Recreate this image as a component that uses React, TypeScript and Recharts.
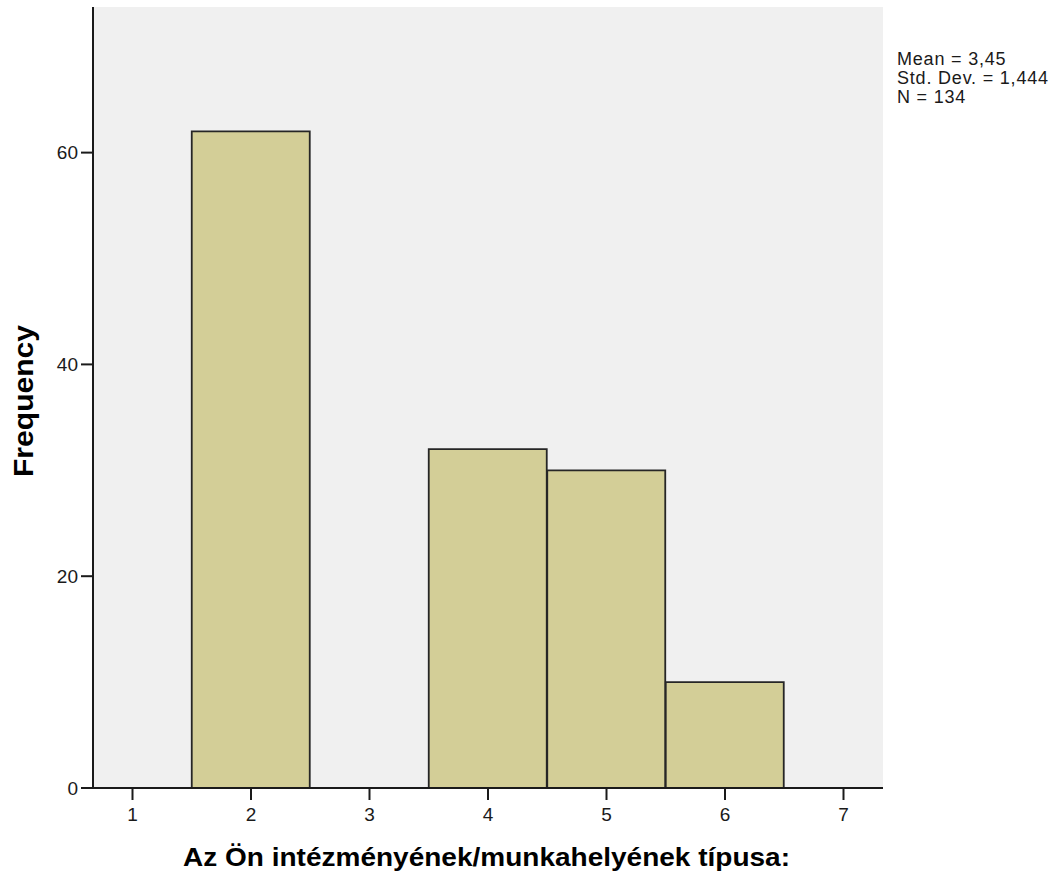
import React from 'react';
import { ComposedChart, Bar, XAxis, YAxis, CartesianGrid, Customized, Label } from 'recharts';

const categories = [1, 2, 3, 4, 5, 6, 7];
const frequencies = [0, 62, 0, 32, 30, 10, 0];
const yTicks = [0, 20, 40, 60];
const statsLines = ['Mean = 3,45', 'Std. Dev. = 1,444', 'N = 134'];
const xTitle = 'Az Ön intézményének/munkahelyének típusa:';
const yTitle = 'Frequency';

const data = categories.map((c, i) => ({ value: c, count: frequencies[i] }));

const FONT = '"Liberation Sans", Arial, sans-serif';

const Stats = () => (
  <g>
    {statsLines.map((t, i) => (
      <text
        key={i}
        x={897}
        y={65 + i * 19}
        fontFamily={FONT}
        fontSize={18}
        letterSpacing={0.8}
        fill="#1a1a1a"
      >
        {t}
      </text>
    ))}
  </g>
);

const XTitle = () => (
  <text
    x={486.5}
    y={866}
    textAnchor="middle"
    fontFamily={FONT}
    fontWeight="bold"
    fontSize={25}
    fill="#000"
    textLength={607}
    lengthAdjust="spacingAndGlyphs"
  >
    {xTitle}
  </text>
);

const YTitle = () => (
  <text
    x={33}
    y={401}
    transform="rotate(-90 33 401)"
    textAnchor="middle"
    fontFamily={FONT}
    fontWeight="bold"
    fontSize={27}
    fill="#000"
    textLength={152}
    lengthAdjust="spacingAndGlyphs"
  >
    {yTitle}
  </text>
);

export default function App() {
  return (
    <div style={{ position: 'absolute', left: 0, top: 0, background: '#fff' }}>
      <ComposedChart
        width={1060}
        height={879}
        data={data}
        margin={{ top: 7, right: 177, bottom: 31, left: 33 }}
        barCategoryGap={0}
        barGap={0}
      >
        <CartesianGrid horizontal={false} vertical={false} fill="#F0F0F0" />
        <XAxis
          xAxisId="main"
          dataKey="value"
          type="number"
          domain={[2 / 3, 22 / 3]}
          allowDataOverflow
          ticks={categories}
          interval={0}
          height={60}
          tickSize={12}
          tickMargin={8}
          axisLine={{ stroke: '#1a1a1a', strokeWidth: 2 }}
          tickLine={{ stroke: '#1a1a1a', strokeWidth: 2 }}
          tick={{ fill: '#1a1a1a', fontSize: 19, fontFamily: FONT }}
        >
          <Label content={<XTitle />} />
        </XAxis>
        <XAxis
          xAxisId="top"
          orientation="top"
          dataKey="value"
          type="number"
          domain={[2 / 3, 22 / 3]}
          allowDataOverflow
          height={0}
          tick={false}
          tickLine={false}
          axisLine={{ stroke: '#7a7a7a', strokeWidth: 2 }}
        />
        <YAxis
          yAxisId="main"
          type="number"
          domain={[0, 73.75]}
          allowDataOverflow
          ticks={yTicks}
          width={60}
          tickSize={12}
          tickMargin={3}
          axisLine={{ stroke: '#1a1a1a', strokeWidth: 2 }}
          tickLine={{ stroke: '#1a1a1a', strokeWidth: 2 }}
          tick={{ fill: '#1a1a1a', fontSize: 19, fontFamily: FONT }}
        >
          <Label content={<YTitle />} />
        </YAxis>
        <YAxis
          yAxisId="right"
          orientation="right"
          type="number"
          domain={[0, 73.75]}
          allowDataOverflow
          width={0}
          tick={false}
          tickLine={false}
          axisLine={{ stroke: '#2a2a2a', strokeWidth: 2 }}
        />
        <Bar
          xAxisId="main"
          yAxisId="main"
          dataKey="count"
          fill="#D3CE97"
          stroke="#262626"
          strokeWidth={1.8}
          isAnimationActive={false}
        />
        <Customized component={Stats} />
      </ComposedChart>
    </div>
  );
}
